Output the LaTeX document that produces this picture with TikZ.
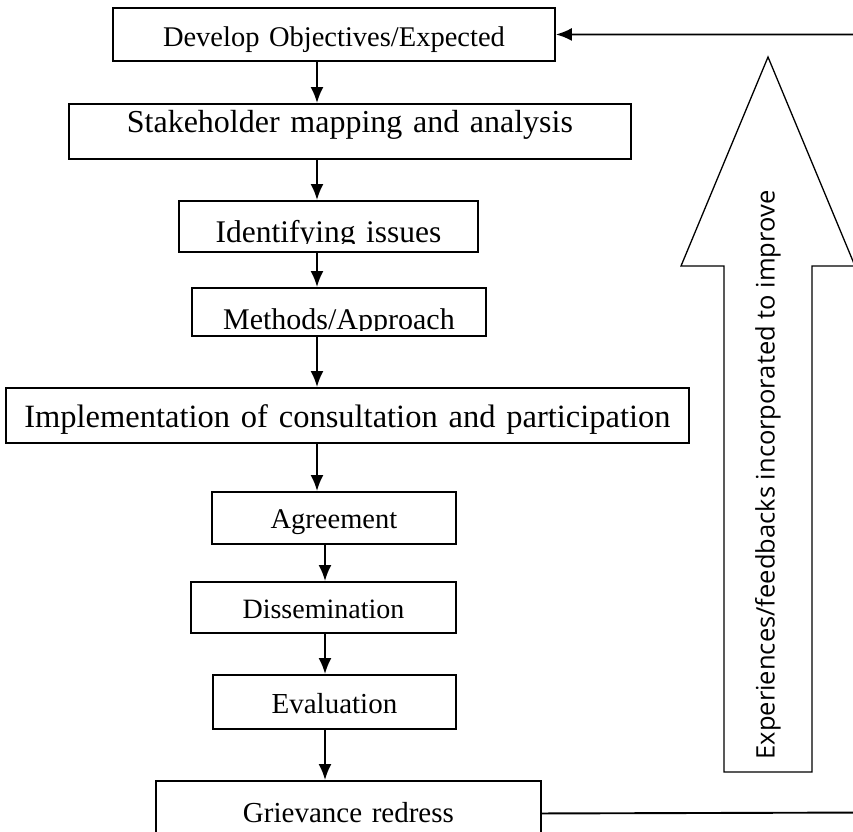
\documentclass[tikz,border=0pt]{standalone}
\usepackage{fontspec}
\setmainfont{Liberation Serif}
\newfontfamily\notefont{Open Sans}
\usetikzlibrary{arrows.meta,calc}
\tikzset{
  stage/.style={draw, line width=1.9pt, inner sep=0pt, anchor=north west, align=center},
  flow/.style={line width=1.9pt, -{Latex[length=16pt,width=13pt]}},
}
\begin{document}
\begin{tikzpicture}[x=1pt,y=-1pt]
\useasboundingbox (0,0) rectangle (853,831);

% stages
\node[stage, text width=442pt, text height=39pt, text depth=14pt, font=\fontsize{28.5}{30}\selectfont] (obj) at (112,7) {Develop Objectives/Expected};
\node[stage, text width=562pt, text height=29pt, text depth=26pt, font=\fontsize{32}{34}\selectfont] (stake) at (68,103) {Stakeholder mapping and analysis};
\node[stage, text width=299pt, text height=42pt, text depth=9pt, font=\fontsize{31.5}{33}\selectfont] (ident) at (178,200) {Identifying issues};
\node[stage, text width=294pt, text height=42pt, text depth=6pt, font=\fontsize{30}{32}\selectfont] (meth) at (191,287) {Methods/Approach};
\node[stage, text width=683pt, text height=40pt, text depth=15pt, font=\fontsize{32.5}{34}\selectfont] (impl) at (5,387) {Implementation of consultation and participation};
\node[stage, text width=244pt, text height=37pt, text depth=15pt, font=\fontsize{28.5}{30}\selectfont] (agree) at (211,491) {Agreement};
\node[stage, text width=265pt, text height=37pt, text depth=14pt, font=\fontsize{28}{30}\selectfont] (diss) at (190,581) {Dissemination};
\node[stage, text width=243pt, text height=39pt, text depth=15pt, font=\fontsize{29}{31}\selectfont] (eval) at (212,674) {Evaluation};
\node[stage, text width=385pt, text height=42pt, text depth=23pt, font=\fontsize{29}{31}\selectfont] (griev) at (155,780) {Grievance redress};

% cut-off text bottoms
\fill[white] ($(ident.south west)+(2,-9)$) rectangle ($(ident.south east)+(-2,-1.5)$);
\fill[white] ($(meth.south west)+(2,-6)$) rectangle ($(meth.south east)+(-2,-1.5)$);

% connectors
\coordinate (spine) at (317,0);
\coordinate (spineb) at (325,0);
\draw[flow] (obj.south -| spine) -- (stake.north -| spine);
\draw[flow] (stake.south -| spine) -- (ident.north -| spine);
\draw[flow] (ident.south -| spine) -- (meth.north -| spine);
\draw[flow] (meth.south -| spine) -- (impl.north -| spine);
\draw[flow] (impl.south -| spine) -- (agree.north -| spine);
\draw[flow] (agree.south -| spineb) -- (diss.north -| spineb);
\draw[flow] (diss.south -| spineb) -- (eval.north -| spineb);
\draw[flow] (eval.south -| spineb) -- (griev.north -| spineb);
\draw[flow] (griev.east) -- (870,812.5) |- (obj.east);

% feedback arrow
\draw[line width=1.3pt, line join=miter] (768,57) -- (855,266) -- (812,266) -- (812,772)
  -- (724,772) -- (724,266) -- (681,266) -- cycle;
\node[rotate=90, inner sep=0pt, font=\notefont\fontsize{25.5}{27}\selectfont] (note) at (768,475) {Experiences/feedbacks incorporated to improve};

\end{tikzpicture}
\end{document}
